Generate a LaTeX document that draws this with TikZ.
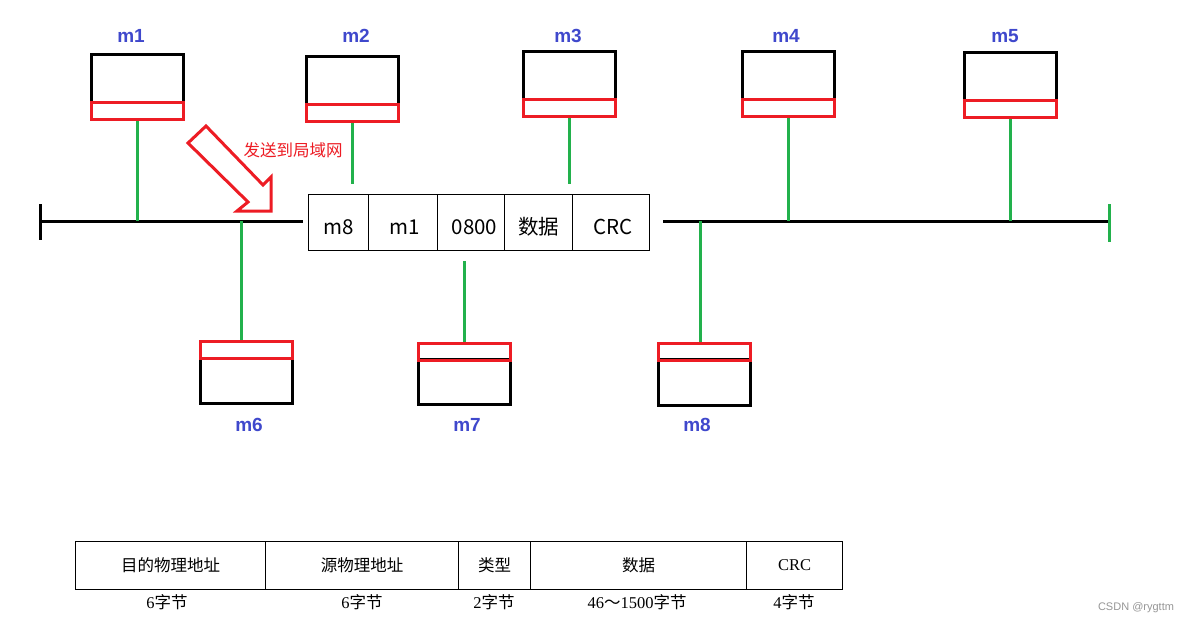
\documentclass[tikz,border=0pt]{standalone}
\usepackage{fontspec}
\setmainfont{Liberation Serif}
\newfontfamily\cjk{Noto Sans CJK SC}
\newfontfamily\labfont{Liberation Sans}
\usetikzlibrary{calc}
\definecolor{pgreen}{RGB}{34,177,76}
\definecolor{pred}{RGB}{237,28,36}
\definecolor{pblue}{RGB}{63,72,204}
\definecolor{wmgray}{RGB}{150,150,150}
\begin{document}
\begin{tikzpicture}[x=1pt,y=-1pt,
 pcbody/.style={draw=black,line width=3pt,minimum width=92pt,minimum height=48pt,inner sep=0pt,anchor=north west},
 nic/.style={draw=pred,line width=3pt,minimum width=92pt,minimum height=17pt,inner sep=0pt,anchor=north west},
 wire/.style={draw=pgreen,line width=3pt},
 busline/.style={draw=black,line width=3pt},
 mlabel/.style={text=pblue,font=\labfont\bfseries\fontsize{19}{22}\selectfont},
 cell/.style={draw=black,line width=1pt,minimum height=56pt,inner sep=0pt,anchor=north west,font=\cjk\fontsize{20.5}{24}\selectfont,text height=27pt,text depth=3pt},
 tcell/.style={draw=black,line width=1pt,minimum height=48pt,inner sep=0pt,anchor=north west,font=\fontsize{16.5}{19}\selectfont},
 tnote/.style={font=\fontsize{16.5}{19}\selectfont},
]
\useasboundingbox[fill=white] (0,0) rectangle (1190,625);

% bus
\coordinate (bA) at (40,221);
\coordinate (bB) at (303,221);
\coordinate (bC) at (663,221);
\coordinate (bD) at (1111,221);
\coordinate (tkA1) at (40,204);
\coordinate (tkA2) at (40,240);
\coordinate (tkB1) at (1109,204);
\coordinate (tkB2) at (1109,242);
\draw[busline] (bA) -- (bB);
\draw[busline] (bC) -- (bD);
\draw[busline] (tkA1) -- (tkA2);
\draw[wire] (tkB1) -- (tkB2);

% frame on the wire
\node[cell,minimum width=60pt,line width=1.2pt] (f1) at (308,194) {m8};
\node[cell,minimum width=69pt] (f2) at (368,194) {\hspace{4pt}m1};
\node[cell,minimum width=67pt] (f3) at (437,194) {\hspace{7pt}0800};
\node[cell,minimum width=68pt] (f4) at (504,194) {数据};
\node[cell,minimum width=77pt] (f5) at (572,194) {\hspace{4pt}CRC};

% top machines
\node[pcbody] (b1) at (90,53) {};
\node[nic] (n1) at (90,101) {};
\node[pcbody] (b2) at (305,55) {};
\node[nic] (n2) at (305,103) {};
\node[pcbody] (b3) at (522,50) {};
\node[nic] (n3) at (522,98) {};
\node[pcbody] (b4) at (741,50) {};
\node[nic] (n4) at (741,98) {};
\node[pcbody] (b5) at (963,51) {};
\node[nic] (n5) at (963,99) {};

% bottom machines
\node[pcbody,minimum height=45pt] (b6) at (199,357) {};
\node[nic] (n6) at (199,340) {};
\node[pcbody,minimum height=45pt] (b7) at (417,358) {};
\node[nic] (n7) at (417,342) {};
\node[pcbody,minimum height=46pt] (b8) at (657,358) {};
\node[nic] (n8) at (657,342) {};

% labels
\node[mlabel] (l1) at (131,36) {m1};
\node[mlabel] (l2) at (356,36) {m2};
\node[mlabel] (l3) at (568,36) {m3};
\node[mlabel] (l4) at (786,36) {m4};
\node[mlabel] (l5) at (1005,36) {m5};
\node[mlabel] (l6) at (249,425) {m6};
\node[mlabel] (l7) at (467,425) {m7};
\node[mlabel] (l8) at (697,425) {m8};

% green wires
\draw[wire] (n1.south) -- (n1.south |- bA);
\draw[wire] (n2.south) -- ($(n2.south |- f1.north)+(0,-10)$);
\draw[wire] (n3.south) -- ($(n3.south |- f4.north)+(0,-10)$);
\draw[wire] (n4.south) -- (n4.south |- bC);
\draw[wire] (n5.south) -- (n5.south |- bC);
\coordinate (w6) at ([xshift=-5pt]n6.north);
\draw[wire] (w6) -- (w6 |- bA);
\draw[wire] ($(n7.north |- f3.south)+(0,10)$) -- (n7.north);
\coordinate (w8) at ([xshift=-4pt]n8.north);
\draw[wire] (w8) -- (w8 |- bC);

% hollow arrow
\draw[draw=pred,line width=3pt,fill=white] (188,143) -- (206,126) -- (263,185) -- (271,177) -- (271,211) -- (237,211) -- (248,202) -- cycle;
\node[text=pred,font=\cjk\fontsize{16.5}{19}\selectfont] (send) at (293,150) {发送到局域网};

% bottom table
\node[tcell,minimum width=190pt] (t1) at (75,541) {\cjk 目的物理地址};
\node[tcell,minimum width=193pt] (t2) at (265,541) {\cjk 源物理地址};
\node[tcell,minimum width=72pt] (t3) at (458,541) {\cjk 类型};
\node[tcell,minimum width=216pt] (t4) at (530,541) {\cjk 数据};
\node[tcell,minimum width=96pt] (t5) at (746,541) {CRC};
\node[tnote] (s1) at (167,602) {6{\cjk 字节}};
\node[tnote] (s2) at (362,602) {6{\cjk 字节}};
\node[tnote] (s3) at (494,602) {2{\cjk 字节}};
\node[tnote] (s4) at (637,602) {46{\cjk ～}1500{\cjk 字节}};
\node[tnote] (s5) at (794,602) {4{\cjk 字节}};

% watermark
\node[text=wmgray,font=\labfont\fontsize{11}{13}\selectfont] (wm) at (1136,608) {CSDN @rygttm};
\end{tikzpicture}
\end{document}
